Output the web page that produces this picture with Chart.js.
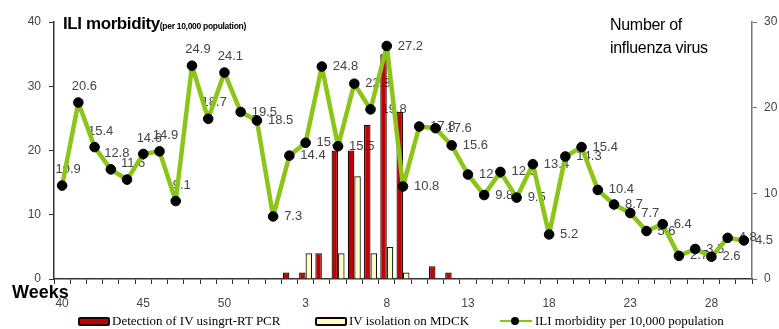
<!DOCTYPE html>
<html lang="en">
<head>
    <meta charset="UTF-8">
    <title>ILI morbidity and influenza virus</title>
    <style>
        body {
            margin: 0;
            padding: 0;
            background-color: #ffffff;
            font-family: "Liberation Sans", Arial, sans-serif;
        }

        .wrap {
            position: relative;
            width: 779px;
            height: 329px;
            overflow: hidden;
        }

        canvas {
            position: absolute;
            left: 0;
            top: 0;
        }

        .txt {
            position: absolute;
            white-space: nowrap;
            color: #000000;
        }

        .title-left {
            left: 63px;
            top: 15px;
            font-size: 17px;
            font-weight: bold;
            line-height: 17px;
            letter-spacing: -0.4px;
        }

        .title-left small {
            font-size: 8.5px;
            letter-spacing: -0.3px;
        }

        .title-right {
            left: 610px;
            top: 13px;
            font-size: 16px;
            line-height: 23px;
            letter-spacing: -0.3px;
        }

        .weeks {
            left: 12px;
            top: 283px;
            font-size: 18px;
            font-weight: bold;
            line-height: 18px;
        }

        .legend {
            position: absolute;
            top: 314px;
            font-family: "Liberation Serif", "Times New Roman", serif;
            font-size: 13px;
            line-height: 14px;
            display: flex;
            align-items: center;
            white-space: nowrap;
        }

        .box {
            display: inline-block;
            width: 28px;
            height: 5px;
            border: 2px solid #1a0000;
            border-radius: 2px;
            margin-right: 2px;
        }

        .mark {
            position: relative;
            display: inline-block;
            width: 32px;
            height: 10px;
            margin-right: 3px;
        }

        .mark::before {
            content: "";
            position: absolute;
            left: 0;
            right: 0;
            top: 4px;
            height: 2px;
            background-color: #8cc41a;
        }

        .mark::after {
            content: "";
            position: absolute;
            left: 11px;
            top: 1px;
            width: 8px;
            height: 8px;
            border-radius: 50%;
            background-color: #000000;
        }
    </style>
</head>
<body>
    <div class="wrap">
        <canvas id="chart" width="779" height="329"></canvas>
        <div class="txt title-left">ILI morbidity<small>(per 10,000 population)</small></div>
        <div class="txt title-right">Number of<br>influenza virus</div>
        <div class="txt weeks">Weeks</div>
        <div class="legend" style="left: 78px;"><span class="box" style="background-color: #c00000;"></span>Detection of IV usingrt-RT PCR</div>
        <div class="legend" style="left: 315px;"><span class="box" style="background-color: #ffffc4;"></span>IV isolation on MDCK</div>
        <div class="legend" style="left: 500px;"><span class="mark"></span>ILI morbidity per 10,000 population</div>
    </div>

    <script src="https://cdn.jsdelivr.net/npm/chart.js"></script>
    <script>
        // weeks 40-52 of the first year, then weeks 1-30
        const weeks = ['40', '41', '42', '43', '44', '45', '46', '47', '48', '49', '50', '51', '52',
            '1', '2', '3', '4', '5', '6', '7', '8', '9', '10', '11', '12', '13', '14', '15',
            '16', '17', '18', '19', '20', '21', '22', '23', '24', '25', '26', '27', '28', '29', '30'];

        // ILI morbidity per 10,000 population
        const iliMorbidity = [10.9, 20.6, 15.4, 12.8, 11.6, 14.6, 14.9, 9.1, 24.9, 18.7, 24.1, 19.5, 18.5,
            7.3, 14.4, 15.9, 24.8, 15.5, 22.8, 19.8, 27.2, 10.8, 17.8, 17.6, 15.6, 12.2, 9.8, 12.5,
            9.5, 13.4, 5.2, 14.3, 15.4, 10.4, 8.7, 7.7, 5.6, 6.4, 2.7, 3.5, 2.6, 4.8, 4.5];

        // detection of IV using rt-RT PCR
        const pcrDetection = [0, 0, 0, 0, 0, 0, 0, 0, 0, 0, 0, 0, 0,
            0, 1, 1, 4, 20, 20, 24, 35, 26, 0, 2, 1, 0, 0, 0,
            0, 0, 0, 0, 0, 0, 0, 0, 0, 0, 0, 0, 0, 0, 0];

        // IV isolation on MDCK
        const mdckIsolation = [0, 0, 0, 0, 0, 0, 0, 0, 0, 0, 0, 0, 0,
            0, 0, 4, 0, 4, 16, 4, 5, 1, 0, 0, 0, 0, 0, 0,
            0, 0, 0, 0, 0, 0, 0, 0, 0, 0, 0, 0, 0, 0, 0];

        const tickFont = { family: 'Liberation Sans, Arial, sans-serif', size: 12 };

        // value labels next to the ILI points, drawn under bars and line
        const pointLabels = {
            id: 'pointLabels',
            beforeDatasetsDraw(chart) {
                const ctx = chart.ctx;
                const meta = chart.getDatasetMeta(0);
                ctx.save();
                ctx.font = '13px "Liberation Sans", Arial, sans-serif';
                ctx.fillStyle = '#444444';
                ctx.textBaseline = 'middle';
                meta.data.forEach(function(pt, i) {
                    const txt = iliMorbidity[i].toFixed(1);
                    if (i < 11) {
                        ctx.textAlign = 'center';
                        ctx.fillText(txt, pt.x + 6, pt.y - 16);
                    } else {
                        ctx.textAlign = 'left';
                        ctx.fillText(txt, pt.x + 11, pt.y);
                    }
                });
                ctx.restore();
            }
        };

        new Chart(document.getElementById('chart'), {
            type: 'bar',
            data: {
                labels: weeks,
                datasets: [{
                    type: 'line',
                    label: 'ILI morbidity per 10,000 population',
                    data: iliMorbidity,
                    yAxisID: 'y2',
                    borderColor: '#8cc41a',
                    borderWidth: 4.5,
                    borderJoinStyle: 'round',
                    borderCapStyle: 'round',
                    pointRadius: 4.8,
                    pointBorderWidth: 1,
                    pointBackgroundColor: '#000000',
                    pointBorderColor: '#000000',
                    tension: 0,
                    order: 0
                }, {
                    label: 'Detection of IV using rt-RT PCR',
                    data: pcrDetection,
                    yAxisID: 'y',
                    backgroundColor: '#c00000',
                    borderColor: '#1a0000',
                    borderWidth: 1.2,
                    barPercentage: 1.0,
                    categoryPercentage: 0.8,
                    order: 1
                }, {
                    label: 'IV isolation on MDCK',
                    data: mdckIsolation,
                    yAxisID: 'y',
                    backgroundColor: '#ffffc4',
                    borderColor: '#111111',
                    borderWidth: 1.2,
                    barPercentage: 1.0,
                    categoryPercentage: 0.8,
                    order: 2
                }]
            },
            options: {
                responsive: false,
                animation: false,
                layout: { padding: { top: 22, left: 0, right: 0, bottom: 0 } },
                plugins: {
                    legend: { display: false },
                    tooltip: { enabled: false }
                },
                scales: {
                    x: {
                        afterFit(scale) { scale.height = 50; },
                        grid: {
                            drawOnChartArea: false,
                            offset: true,
                            tickLength: 5,
                            color: '#333333'
                        },
                        border: { color: '#333333', width: 1.5 },
                        ticks: {
                            autoSkip: false,
                            maxRotation: 0,
                            padding: 12,
                            color: '#444444',
                            font: tickFont,
                            callback: function(value, index) {
                                return index % 5 === 0 ? weeks[index] : '';
                            }
                        }
                    },
                    y: {
                        position: 'left',
                        min: 0,
                        max: 40,
                        afterFit(scale) { scale.width = 54; },
                        grid: {
                            drawOnChartArea: false,
                            tickLength: 5,
                            color: '#333333'
                        },
                        border: { color: '#333333', width: 1.5 },
                        ticks: {
                            stepSize: 10,
                            padding: 8,
                            color: '#444444',
                            font: tickFont
                        }
                    },
                    y2: {
                        position: 'right',
                        min: 0,
                        max: 30,
                        afterFit(scale) { scale.width = 27; },
                        grid: {
                            drawOnChartArea: false,
                            tickLength: 5,
                            color: '#777777'
                        },
                        border: { color: '#777777', width: 1.5 },
                        ticks: {
                            stepSize: 10,
                            padding: 7,
                            color: '#444444',
                            font: tickFont
                        }
                    }
                }
            },
            plugins: [pointLabels]
        });
    </script>
</body>
</html>
